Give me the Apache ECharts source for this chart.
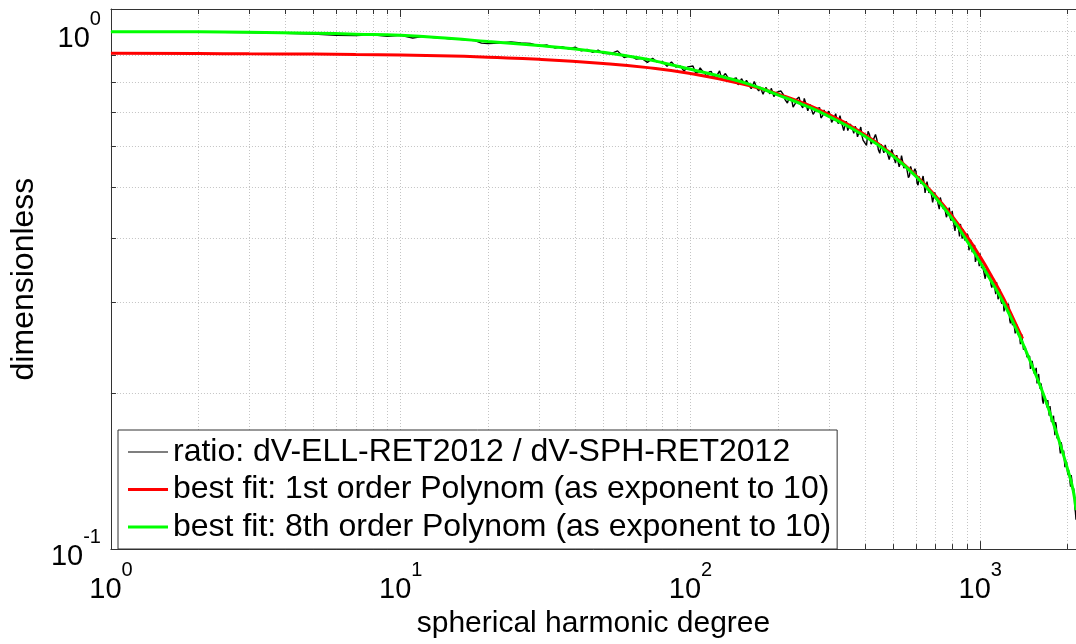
<!DOCTYPE html>
<html>
<head>
<meta charset="utf-8">
<script src="https://cdn.jsdelivr.net/npm/echarts@6/dist/echarts.min.js"></script>
<style>
html,body{margin:0;padding:0;background:#fff;}
#chart{width:1076px;height:644px;}
</style>
</head>
<body>
<div id="chart"></div>
<script>
// ---------- data ----------
const seriesNames = [
  'ratio: dV-ELL-RET2012 / dV-SPH-RET2012',
  'best fit: 1st order Polynom (as exponent to 10)',
  'best fit: 8th order Polynom (as exponent to 10)'
];
const xAxisTitle = 'spherical harmonic degree';
const yAxisTitle = 'dimensionless';

// noisy ratio (sampled degrees), first set
const ratioDeg = [
  1,2,3,4,5,6,7,8,9,10,11,12,13,14,15,16,17,18,19,20,
  22,24,26,28,30,32,34,36,38,40,42,44,46,48,50,
  53,56,59,62,65,68,71,74,77,80,83,86,89,92,95,98,
  102,106,110,114,118,122,126,130,134,138,142,146,150,154,158,162,166,170,174,178,182,186,190,194,198,
  205,212,219,226,233,240,247,254,261,268,275,282,289,296,303,310,317,324,331,338,345,352,359,366,373,380,387,394,
  405,415,425,435,445,455,465,475,485,495,505,515,525,535,545,555,565,575,585,595,605,615,625,635,645,655,665,675,685,695,
  710,722,734,746,758,770,782,794,806,818,830,842,854,866,878,890,902,914,926,938,950,962,974,986,998,
  1012,1026,1040,1054,1068,1082,1096,1110,1124,1138,1152,1166,1180,1194,1208,1222,1236,1250,1264,1278,1292,1306,1320,1334,1348,1362,1376,1390,
  1410,1430,1450,1470,1490,1510,1530,1550,1570,1590,1610,1630,1650,1670,1690,1710,1730,1750,1770,1790,1810,1830,1850,1870,1890,1910,1930,1950,1970,1990,2010,2030,2050,2070,2090,2110,2130,2140
];
const ratioVal = [
  0.999,0.998,0.996,0.993,0.989,0.984,0.983,0.986,0.980,0.984,0.972,0.979,0.974,0.972,0.968,0.967,0.963,0.961,0.950,0.948,
  0.951,0.955,0.951,0.949,0.938,0.942,0.930,0.935,0.926,0.933,0.918,0.924,0.912,0.921,0.908,
  0.906,0.918,0.891,0.899,0.885,0.888,0.872,0.888,0.872,0.876,0.857,0.874,0.854,0.859,0.839,0.855,
  0.858,0.834,0.839,0.815,0.838,0.823,0.840,0.806,0.819,0.801,0.807,0.789,0.811,0.792,0.800,0.776,0.801,0.775,0.782,0.757,0.780,0.765,0.777,0.749,0.763,
  0.768,0.739,0.745,0.715,0.742,0.724,0.743,0.703,0.718,0.697,0.703,0.681,0.706,0.684,0.692,0.665,0.694,0.664,0.672,0.644,0.671,0.653,0.667,0.636,0.650,0.635,0.654,0.617,
  0.603,0.632,0.613,0.633,0.591,0.606,0.583,0.589,0.566,0.592,0.568,0.577,0.548,0.576,0.545,0.552,0.522,0.549,0.530,0.543,0.510,0.525,0.508,0.526,0.488,0.513,0.488,0.493,0.468,0.489,
  0.475,0.454,0.474,0.454,0.460,0.436,0.457,0.431,0.436,0.412,0.431,0.415,0.425,0.398,0.408,0.394,0.407,0.378,0.396,0.375,0.378,0.359,0.374,0.362,0.373,
  0.349,0.353,0.333,0.348,0.335,0.342,0.320,0.328,0.318,0.328,0.304,0.318,0.301,0.304,0.288,0.300,0.290,0.298,0.277,0.283,0.271,0.274,0.261,0.272,0.260,0.263,0.249,0.260,
  0.243,0.246,0.235,0.235,0.223,0.231,0.220,0.221,0.209,0.218,0.204,0.205,0.191,0.200,0.191,0.194,0.181,0.184,0.176,0.181,0.166,0.173,0.163,0.163,0.153,0.159,0.152,0.156,0.144,0.146,0.139,0.139,0.132,0.136,0.129,0.128,0.118,0.114
];
// noisy ratio, second set of sampled degrees (in between the first set)
const ratioDeg2 = [
  104,108,112,116,120,124,128,132,136,140,144,148,152,156,160,164,168,172,176,180,184,188,192,196,
  209,216,223,230,237,244,251,258,265,272,279,286,293,300,307,314,321,328,335,342,349,356,363,370,377,384,391,
  410,420,430,440,450,460,470,480,490,500,510,520,530,540,550,560,570,580,590,600,610,620,630,640,650,660,670,680,690,
  716,728,740,752,764,776,788,800,812,824,836,848,860,872,884,896,908,920,932,944,956,968,980,992,
  1019,1033,1047,1061,1075,1089,1103,1117,1131,1145,1159,1173,1187,1201,1215,1229,1243,1257,1271,1285,1299,1313,1327,1341,1355,1369,1383,
  1420,1440,1460,1480,1500,1520,1540,1560,1580,1600,1620,1640,1660,1680,1700,1720,1740,1760,1780,1800,1820,1840,1860,1880,1900,1920,1940,1960,1980,2000,2020,2040,2060,2080,2100,2120
];
const ratioVal2 = [
  0.834,0.851,0.832,0.836,0.813,0.827,0.813,0.830,0.802,0.810,0.814,0.785,0.801,0.805,0.785,0.786,0.797,0.768,0.782,0.769,0.785,0.758,0.764,0.746,
  0.756,0.728,0.744,0.727,0.747,0.712,0.721,0.724,0.692,0.709,0.713,0.688,0.690,0.702,0.668,0.683,0.670,0.688,0.656,0.663,0.644,0.663,0.647,0.656,0.626,0.645,0.628,
  0.642,0.606,0.614,0.618,0.582,0.601,0.604,0.578,0.580,0.592,0.557,0.572,0.557,0.575,0.541,0.548,0.527,0.545,0.528,0.537,0.505,0.523,0.505,0.509,0.490,0.510,0.489,0.496,0.469,
  0.463,0.478,0.460,0.461,0.438,0.450,0.436,0.450,0.422,0.428,0.429,0.402,0.414,0.415,0.395,0.395,0.402,0.377,0.387,0.375,0.387,0.363,0.366,0.352,
  0.353,0.354,0.333,0.341,0.342,0.325,0.325,0.332,0.311,0.318,0.309,0.317,0.298,0.301,0.288,0.298,0.288,0.291,0.273,0.282,0.272,0.272,0.262,0.271,0.259,0.262,0.247,
  0.242,0.247,0.236,0.236,0.222,0.226,0.218,0.224,0.209,0.210,0.209,0.194,0.199,0.198,0.188,0.187,0.189,0.176,0.179,0.172,0.176,0.164,0.164,0.157,0.161,0.154,0.155,0.144,0.148,0.141,0.142,0.135,0.139,0.131,0.131,0.120
];

// 1st order polynomial fit (red)
const fit1Deg = [1,2,3,5,7,10,15,20,30,50,70,100,150,200,300,400,500,600,700,800,900,1000,1100,1200,1300,1400];
const fit1Val = [0.908,0.907,0.906,0.905,0.903,0.901,0.897,0.892,0.884,0.868,0.853,0.830,0.793,0.758,0.692,0.632,0.577,0.527,0.482,0.440,0.402,0.367,0.335,0.306,0.279,0.255];

// 8th order polynomial fit (green)
const fit8Deg = [1,2,3,5,7,10,15,20,30,40,50,60,70,80,100,130,160,200,250,300,400,500,600,700,800,900,1000,1100,1200,1300,1400,1500,1647,1800,1884,2000,2092,2140];
const fit8Val = [1.000,0.999,0.997,0.993,0.989,0.984,0.970,0.957,0.940,0.926,0.912,0.898,0.885,0.871,0.846,0.817,0.791,0.755,0.719,0.686,0.628,0.575,0.525,0.478,0.435,0.394,0.358,0.327,0.300,0.274,0.250,0.228,0.200,0.173,0.160,0.143,0.130,0.119];

// axis ranges and minor ticks
const xRange = [1, 2140];
const yRange = [0.1, 1.106];
const xMinorTicks = [2,3,4,5,6,7,8,9,20,30,40,50,60,70,80,90,200,300,400,500,600,700,800,900,2000];
const yMinorTicks = [0.2,0.3,0.4,0.5,0.6,0.7,0.8,0.9];

// ---------- chart ----------
const FONT = '"Liberation Sans", Arial, Helvetica, sans-serif';
const AXIS_COLOR = '#333';
const GRID_COLOR = '#c4c4c4';
const zip = (a, b) => a.map((v, i) => [v, b[i]]);
const ratioData = zip(ratioDeg, ratioVal).concat(zip(ratioDeg2, ratioVal2)).sort((p, q) => p[0] - q[0]);

const powLabel = v => '{b|10}{s|' + Math.round(Math.log10(v)) + '}';
const labelRich = {
  b: {fontSize: 29, lineHeight: 44, verticalAlign: 'bottom', fontFamily: FONT, color: '#000'},
  s: {fontSize: 20, lineHeight: 16, verticalAlign: 'top', fontFamily: FONT, color: '#000'}
};

function crisp(v) { return Math.round(v) + 0.5; }

function renderXMinor(params, api) {
  const cs = params.coordSys;
  const x = crisp(api.coord([api.value(0), api.value(1)])[0]);
  const top = cs.y, bot = cs.y + cs.height;
  return {type: 'group', children: [
    {type: 'line', shape: {x1: x, y1: top, x2: x, y2: bot}, style: {stroke: GRID_COLOR, lineWidth: 1, lineDash: [1, 2]}},
    {type: 'line', shape: {x1: x, y1: bot, x2: x, y2: bot - 5}, style: {stroke: AXIS_COLOR, lineWidth: 1}},
    {type: 'line', shape: {x1: x, y1: top, x2: x, y2: top + 5}, style: {stroke: AXIS_COLOR, lineWidth: 1}}
  ]};
}
function renderYMinor(params, api) {
  const cs = params.coordSys;
  const y = crisp(api.coord([api.value(0), api.value(1)])[1]);
  const l = cs.x, r = cs.x + cs.width;
  return {type: 'group', children: [
    {type: 'line', shape: {x1: l, y1: y, x2: r, y2: y}, style: {stroke: GRID_COLOR, lineWidth: 1, lineDash: [1, 2]}},
    {type: 'line', shape: {x1: l, y1: y, x2: l + 5, y2: y}, style: {stroke: AXIS_COLOR, lineWidth: 1}}
  ]};
}

const chart = echarts.init(document.getElementById('chart'), null, {renderer: 'canvas'});
chart.setOption({
  animation: false,
  backgroundColor: '#fff',
  grid: {left: 107, right: 0, top: 9, bottom: 87, containLabel: false},
  legend: {
    orient: 'vertical',
    left: 118, top: 430,
    data: [
      {name: seriesNames[0], icon: 'path://M0,0H40V1H0Z'},
      {name: seriesNames[1], icon: 'path://M0,0H40V3H0Z'},
      {name: seriesNames[2], icon: 'path://M0,0H40V3H0Z'}
    ],
    backgroundColor: '#fff',
    borderColor: AXIS_COLOR,
    borderWidth: 1,
    borderRadius: 0,
    padding: [6, 6, 6, 10],
    itemWidth: 40,
    itemHeight: 14,
    itemGap: 5.5,
    textStyle: {fontSize: 32, fontFamily: FONT, color: '#000', lineHeight: 32}
  },
  xAxis: [{
    type: 'log', logBase: 10, min: xRange[0], max: xRange[1],
    position: 'bottom',
    name: xAxisTitle, nameLocation: 'middle', nameGap: 52,
    nameTextStyle: {fontSize: 30, fontFamily: FONT, color: '#000'},
    axisLine: {show: true, lineStyle: {color: AXIS_COLOR, width: 1}},
    axisTick: {show: true, inside: true, length: 8, lineStyle: {color: AXIS_COLOR}},
    axisLabel: {formatter: powLabel, rich: labelRich, margin: 11, showMaxLabel: false},
    splitLine: {show: true, lineStyle: {color: GRID_COLOR, type: [1, 2], width: 1}},
    minorTick: {show: false}, minorSplitLine: {show: false}
  }, {
    type: 'log', logBase: 10, min: xRange[0], max: xRange[1],
    position: 'top',
    axisLine: {show: true, lineStyle: {color: AXIS_COLOR, width: 1}},
    axisTick: {show: true, inside: true, length: 8, lineStyle: {color: AXIS_COLOR}},
    axisLabel: {show: false},
    splitLine: {show: false}
  }],
  yAxis: {
    type: 'log', logBase: 10, min: yRange[0], max: yRange[1],
    name: yAxisTitle, nameLocation: 'middle', nameGap: 56, nameRotate: 90,
    nameTextStyle: {fontSize: 32, fontFamily: FONT, color: '#000'},
    axisLine: {show: true, lineStyle: {color: AXIS_COLOR, width: 1}},
    axisTick: {show: true, inside: true, length: 8, lineStyle: {color: AXIS_COLOR}},
    axisLabel: {formatter: powLabel, rich: labelRich, margin: 10, showMaxLabel: false},
    splitLine: {show: true, lineStyle: {color: GRID_COLOR, type: [1, 2], width: 1}}
  },
  series: [
    {
      name: 'xminor', type: 'custom', coordinateSystem: 'cartesian2d',
      data: xMinorTicks.map(v => [v, 0.5]), encode: {x: 0, y: 1},
      renderItem: renderXMinor, silent: true, z: 1, clip: false
    },
    {
      name: 'yminor', type: 'custom', coordinateSystem: 'cartesian2d',
      data: yMinorTicks.map(v => [10, v]), encode: {x: 0, y: 1},
      renderItem: renderYMinor, silent: true, z: 1, clip: false
    },
    {
      name: seriesNames[0], type: 'line', data: ratioData,
      showSymbol: false, symbol: 'none',
      lineStyle: {color: '#000', width: 1.4}, itemStyle: {color: '#000'}, z: 3
    },
    {
      name: seriesNames[1], type: 'line', data: zip(fit1Deg, fit1Val),
      showSymbol: false, symbol: 'none', smooth: true,
      lineStyle: {color: '#ff0000', width: 3}, itemStyle: {color: '#ff0000'}, z: 4
    },
    {
      name: seriesNames[2], type: 'line', data: zip(fit8Deg, fit8Val),
      showSymbol: false, symbol: 'none', smooth: true,
      lineStyle: {color: '#00ff00', width: 3}, itemStyle: {color: '#00ff00'}, z: 5
    }
  ]
});
</script>
</body>
</html>
